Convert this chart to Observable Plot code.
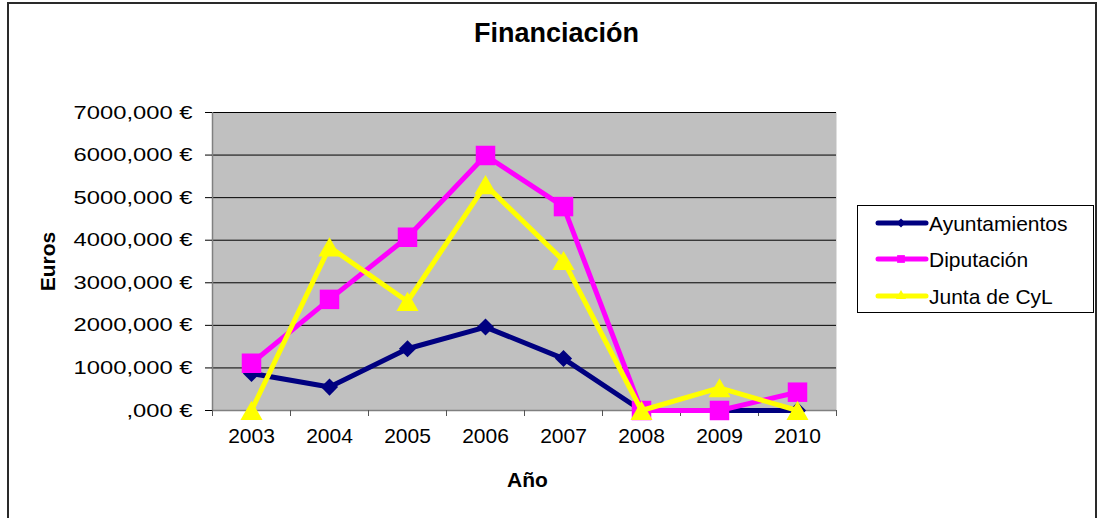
<!DOCTYPE html>
<html>
<head>
<meta charset="utf-8">
<script src="https://cdn.jsdelivr.net/npm/d3@7"></script>
<script src="https://cdn.jsdelivr.net/npm/@observablehq/plot@0.6"></script>
<style>
  html, body { margin: 0; padding: 0; background: #fff; overflow: hidden; }
  #wrap { position: relative; width: 1102px; height: 518px; font-family: "Liberation Sans", Arial, sans-serif; }
  #border { position: absolute; left: 7px; top: 2px; width: 1090px; height: 600px;
            border: 2px solid #2a2a2a; border-bottom: none; box-sizing: border-box; }
  #chart { position: absolute; left: 0; top: 0; }
  #legend { position: absolute; left: 0; top: 0; }
</style>
</head>
<body>
<div id="wrap">
  <div id="border"></div>
  <div id="chart"></div>
  <svg id="legend" width="1102" height="518"></svg>
</div>
<script>
const years = [2003, 2004, 2005, 2006, 2007, 2008, 2009, 2010];
const ayuntamientos = [870, 550, 1450, 1960, 1220, 0, 0, 0];
const diputacion = [1110, 2610, 4070, 5990, 4790, 0, 0, 430];
const junta = [0, 3840, 2560, 5300, 3520, 0, 530, 0];
const seriesNames = ["Ayuntamientos", "Diputación", "Junta de CyL"];
const yTicks = [0, 1000, 2000, 3000, 4000, 5000, 6000, 7000];
const yTickLabels = [",000 €", "1000,000 €", "2000,000 €", "3000,000 €", "4000,000 €", "5000,000 €", "6000,000 €", "7000,000 €"];
const title = "Financiación";
const xTitle = "Año";
const yTitle = "Euros";

const colors = ["#000080", "#ff00ff", "#ffff00"];
const symbols = ["diamond2", "square", "triangle"];
const radii = [7.7, 11, 8.2];
const seriesValues = [ayuntamientos, diputacion, junta];

const boundaries = d3.range(years.length + 1).map(i => years[0] - 0.5 + i);

const marks = [
  Plot.frame({fill: "#c0c0c0", stroke: null}),
  Plot.gridY(yTicks, {stroke: "#000", strokeOpacity: 1, strokeWidth: 1}),
  Plot.ruleX([boundaries[0]], {stroke: "#808080", strokeWidth: 1.5}),
  Plot.ruleY([0], {stroke: "#808080", strokeWidth: 1.5}),
  Plot.axisY(yTicks, {tickSize: 7, tickPadding: 13, fontSize: 19,
    tickFormat: d => yTickLabels[yTicks.indexOf(d)], label: null, stroke: "#000"}),
  Plot.axisX(boundaries, {tickSize: 6, tickFormat: () => "", label: null, stroke: "#555"}),
  Plot.axisX(years, {tickSize: 0, tickPadding: 18, fontSize: 21, tickFormat: d => String(d), label: null}),
  Plot.text([yTitle], {text: d => d, frameAnchor: "left", textAnchor: "middle", dx: 48 - 212, rotate: -90,
    fontSize: 21, fontWeight: "bold", fill: "#000"}),
  Plot.text([xTitle], {text: d => d, frameAnchor: "bottom", dx: 3, dy: 76,
    fontSize: 21, fontWeight: "bold", fill: "#000"}),
  Plot.text([title], {text: d => d, frameAnchor: "top", dx: 32, dy: -90,
    fontSize: 27, fontWeight: "bold", fill: "#000"})
];

seriesValues.forEach((vals, i) => {
  const data = years.map((y, j) => ({year: y, value: vals[j]}));
  marks.push(Plot.line(data, {x: "year", y: "value", stroke: colors[i], strokeWidth: 5,
    strokeLinejoin: "miter", strokeLinecap: "butt"}));
  marks.push(Plot.dot(data, {x: "year", y: "value", symbol: symbols[i], r: radii[i],
    fill: colors[i], stroke: null, dy: symbols[i] === "triangle" ? 3 : 0}));
});

const chart = Plot.plot({
  width: 1102,
  height: 518,
  marginLeft: 212,
  marginRight: 266,
  marginTop: 112,
  marginBottom: 108,
  style: {fontFamily: "'Liberation Sans', Arial, sans-serif", color: "#000", background: "transparent", overflow: "visible"},
  x: {type: "linear", domain: [boundaries[0], boundaries[boundaries.length - 1]], axis: null},
  y: {domain: [0, 7000], axis: null},
  marks
});
document.getElementById("chart").appendChild(chart);

// horizontally widen y tick labels as in the reference rendering
d3.select(chart).selectAll('g[aria-label="y-axis tick label"] text').each(function() {
  const w = this.getComputedTextLength();
  this.setAttribute("textLength", (w * 1.25).toFixed(1));
  this.setAttribute("lengthAdjust", "spacingAndGlyphs");
});

// legend
const leg = d3.select("#legend");
leg.append("rect").attr("x", 857.5).attr("y", 205.5).attr("width", 236).attr("height", 107)
  .attr("fill", "#fff").attr("stroke", "#000").attr("stroke-width", 1);
const rowY = [223, 259, 296];
const legSym = [d3.symbolDiamond2, d3.symbolSquare, d3.symbolTriangle];
const legSize = [50, 60, 45];
seriesNames.forEach((name, i) => {
  const g = leg.append("g");
  g.append("line").attr("x1", 878).attr("x2", 926).attr("y1", rowY[i]).attr("y2", rowY[i])
    .attr("stroke", colors[i]).attr("stroke-width", 5).attr("stroke-linecap", "round");
  g.append("path").attr("d", d3.symbol(legSym[i], legSize[i])())
    .attr("transform", `translate(901,${rowY[i]})`).attr("fill", colors[i]);
  g.append("text").attr("x", 929).attr("y", rowY[i] + 7.5).text(name)
    .attr("font-size", 21).attr("font-family", "'Liberation Sans', Arial, sans-serif").attr("fill", "#000");
});
</script>
</body>
</html>
